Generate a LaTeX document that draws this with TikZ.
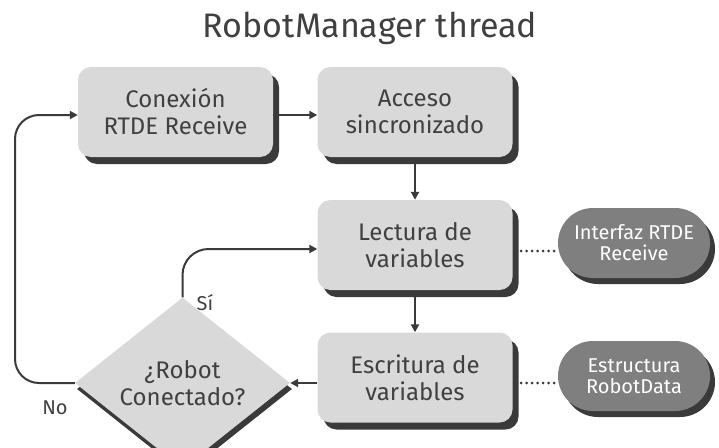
\documentclass[tikz,border=0pt]{standalone}
\usepackage{fontspec}
\setmainfont{Fira Sans}
\usetikzlibrary{shapes.geometric,shapes.misc,shadows,arrows.meta}
\definecolor{boxfill}{HTML}{D9D9D9}
\definecolor{shade}{HTML}{3A3A3A}
\definecolor{ink}{HTML}{404040}
\definecolor{pillfill}{HTML}{7F7F7F}
\definecolor{wire}{HTML}{3A3A3A}
\begin{document}
\begin{tikzpicture}[x=1pt,y=-1pt,
  stepbox/.style={rectangle, rounded corners=13pt, fill=boxfill,
    minimum width=195pt, minimum height=90pt, inner sep=0pt, text=ink,
    align=center, font=\fontsize{24}{27}\selectfont,
    drop shadow={shadow xshift=6pt, shadow yshift=-7pt, fill=shade, opacity=1}},
  pill/.style={rounded rectangle, fill=pillfill, minimum width=152pt,
    minimum height=70pt, inner sep=0pt, text=white, align=center,
    font=\fontsize{20}{21}\selectfont,
    drop shadow={shadow xshift=5pt, shadow yshift=-6pt, fill=shade, opacity=1}},
  decision/.style={diamond, fill=boxfill, minimum width=215pt, minimum height=126pt,
    inner sep=0pt, text=ink, align=center, font=\fontsize{24}{27}\selectfont,
    drop shadow={shadow xshift=2pt, shadow yshift=-6pt, fill=shade, opacity=1}},
  flow/.style={draw=wire, line width=2pt, -{Triangle[length=8pt,width=8pt]}},
  link/.style={draw=wire, line width=3pt, dash pattern=on 0pt off 5.5pt, line cap=round}
]
\useasboundingbox (0,0) rectangle (719,447);

\node[text=ink, font=\fontsize{34}{38}\selectfont] (title) at (370,28) {RobotManager thread};

\node[stepbox] (conn) at (175.5,112) {Conexión\\RTDE Receive};
\node[stepbox] (sync) at (415,112) {Acceso\\sincronizado};
\node[stepbox] (read) at (415,245) {Lectura de\\variables};
\node[stepbox] (write) at (415,377.5) {Escritura de\\variables};

\node[pill] (rtde) at (634,243) {Interfaz RTDE\\Receive};
\node[pill] (data) at (634,376) {Estructura\\RobotData};

\node[decision] (check) at (182.5,383) {¿Robot\\Conectado?};

\coordinate (loopL) at (15,383);
\coordinate (loopT) at (15,115);
\coordinate (yesT) at (182.5,249);

\draw[flow] (conn.east |- 0,115) -- (sync.west |- 0,115);
\draw[flow] (sync.south |- 0,164) -- (read.north);
\draw[flow] (read.south |- 0,297) -- (write.north);
\draw[flow] (write.west |- 0,383) -- (check.east);
\draw[flow, rounded corners=26pt] (check.north) -- (yesT) -- (read.west |- yesT);
\draw[flow, rounded corners=24pt] (check.west) -- (loopL) -- (loopT) -- (conn.west |- loopT);
\draw[link] (521,251) -- (rtde.west |- 0,251);
\draw[link] (521,383) -- (data.west |- 0,383);

\node[text=ink, font=\fontsize{20}{22}\selectfont] (yes) at (205,303) {Sí};
\node[text=ink, font=\fontsize{20}{22}\selectfont] (no) at (55,408) {No};
\end{tikzpicture}
\end{document}
